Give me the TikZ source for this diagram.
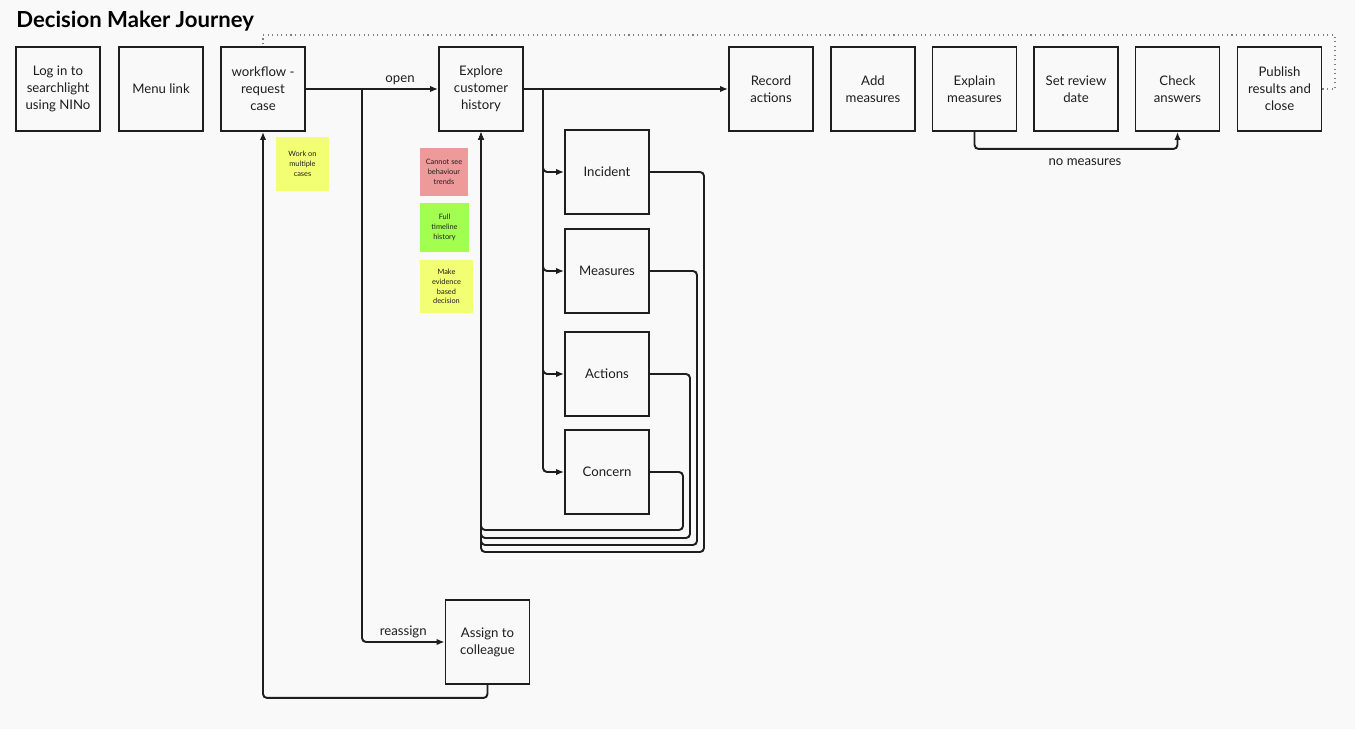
\documentclass[tikz,border=0pt]{standalone}
\usepackage{fontspec}
\setmainfont{Lato}
\usepackage{tikz}
\usetikzlibrary{arrows.meta}

\definecolor{paper}{HTML}{F9F9F9}
\definecolor{ink}{HTML}{1E1E1E}
\definecolor{noteyellow}{HTML}{F3FF73}
\definecolor{notered}{HTML}{EE9A9A}
\definecolor{notegreen}{HTML}{A2FF4F}

\begin{document}
\begin{tikzpicture}[x=0.02cm, y=-0.02cm,
    box/.style={draw=ink, line width=1.1pt, fill=paper, minimum width=1.68cm,
      minimum height=1.68cm, inner sep=0pt, align=center, text=ink,
      font=\fontsize{7.5}{9.6}\selectfont},
    sticky/.style={fill=#1, inner sep=0pt, align=center, text=ink,
      font=\fontsize{4.2}{5.6}\selectfont},
    conn/.style={draw=ink, line width=1.1pt, rounded corners=0.8mm,
      -{Latex[length=1.6mm,width=1.3mm]}},
    lbl/.style={text=ink, inner sep=1pt, font=\fontsize{7.5}{9.6}\selectfont}]
    \fill [paper] (0,0) rectangle (1355,729);
    \node [anchor=west, inner sep=0pt, text=black, font=\fontsize{12.6}{15}\selectfont\bfseries]
      (title) at (16,21) {Decision Maker Journey};
    % top row
    \node [box] (login) at (58,89) {Log in to\\searchlight\\using NINo};
    \node [box] (menu) at (161,89) {Menu link};
    \node [box] (wf) at (263,89) {workflow -\\request\\case};
    \node [box] (ex) at (481,89) {Explore\\customer\\history};
    \node [box] (rec) at (771,89) {Record\\actions};
    \node [box] (add) at (873,89) {Add\\measures};
    \node [box] (exp) at (974.5,89) {Explain\\measures};
    \node [box] (srd) at (1076,89) {Set review\\date};
    \node [box] (chk) at (1177.5,89) {Check\\answers};
    \node [box] (pub) at (1279.5,89) {Publish\\results and\\close};
    % history column
    \node [box] (inc) at (607,172) {Incident};
    \node [box] (mea) at (607,271) {Measures};
    \node [box] (act) at (607,374) {Actions};
    \node [box] (con) at (607,472) {Concern};
    \node [box] (as) at (487.5,642) {Assign to\\colleague};
    % notes
    \node [sticky=noteyellow, minimum width=1.06cm, minimum height=1.08cm]
      (work) at (302.5,164) {Work on\\multiple\\cases};
    \node [sticky=notered, minimum width=0.96cm, minimum height=0.96cm]
      (cannot) at (444,172) {Cannot see\\behaviour\\trends};
    \node [sticky=notegreen, minimum width=0.98cm, minimum height=0.98cm]
      (full) at (444.5,227.5) {Full\\timeline\\history};
    \node [sticky=noteyellow, minimum width=1.06cm, minimum height=1.06cm]
      (make) at (446.5,286.5) {Make\\evidence\\based\\decision};
    % connectors
    \coordinate (split) at (362,89);
    \coordinate (fork) at (543,89);
    \draw [conn, -] (wf.east) -- (split);
    \draw [conn] (split) -- (ex.west) node [lbl, midway, above=1pt] (open) {open};
    \draw [conn] (split) |- (as.west) node [lbl, pos=0.75, above=1pt] (reas) {reassign};
    \draw [conn] (as.south) -- ++(0,13) -| (wf.south);
    \draw [conn, -] (ex.east) -- (fork);
    \draw [conn] (fork) -- (rec.west);
    \foreach \n in {inc, mea, act, con}
      \draw [conn] (fork) |- (\n.west);
    \foreach \n/\x/\y in {inc/704/552, mea/697/545, act/690/538, con/683/530}
      \draw [conn] (\n.east) -| (\x,\y) -| (ex.south);
    \draw [conn] (exp.south) -- ++(0,17) -| (chk.south);
    \node [lbl] (nomeas) at (1085,162) {no measures};
    \draw [gray, dotted, line width=0.6pt] (pub.east) -| (1335,35) -| (wf.north);
\end{tikzpicture}
\end{document}
